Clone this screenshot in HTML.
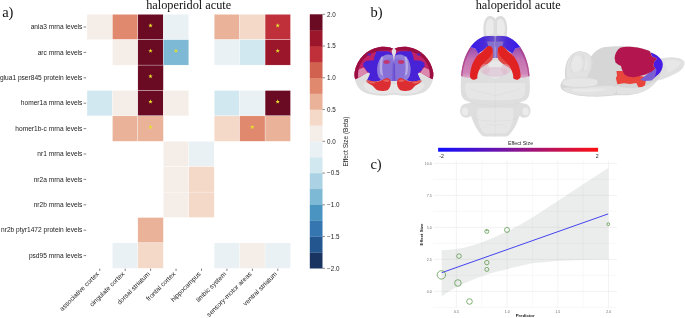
<!DOCTYPE html>
<html>
<head>
<meta charset="utf-8">
<title>haloperidol acute</title>
<style>
html,body{margin:0;padding:0;background:#fff;}
body{width:685px;height:318px;overflow:hidden;font-family:"Liberation Sans",sans-serif;}
svg{display:block;position:absolute;left:0;top:0;will-change:transform;}
</style>
</head>
<body>
<svg width="685" height="318" viewBox="0 0 685 318">
<defs>
  <filter id="b1" x="-20%" y="-20%" width="140%" height="140%"><feGaussianBlur stdDeviation="0.6"/></filter>
  <filter id="b2" x="-20%" y="-20%" width="140%" height="140%"><feGaussianBlur stdDeviation="1.2"/></filter>
  <filter id="b05" x="-20%" y="-20%" width="140%" height="140%"><feGaussianBlur stdDeviation="0.35"/></filter>
  <linearGradient id="es" x1="0" x2="1" y1="0" y2="0">
    <stop offset="0" stop-color="#1010ff"/>
    <stop offset="0.5" stop-color="#8a1490"/>
    <stop offset="1" stop-color="#ff1010"/>
  </linearGradient>
</defs>
<rect width="685" height="318" fill="#fff"/>

<!-- panel titles -->
<g font-family="Liberation Serif, serif" fill="#111">
  <text x="2.2" y="17.1" font-size="14.5">a)</text>
  <text x="188.7" y="8.8" font-size="12.3" text-anchor="middle">haloperidol acute</text>
  <text x="370.4" y="16.6" font-size="14.5">b)</text>
  <text x="518.2" y="8.8" font-size="12.3" text-anchor="middle">haloperidol acute</text>
  <text x="370.4" y="168.9" font-size="14.5">c)</text>
</g>

<g id="heat">
<rect x="87.00" y="14.30" width="25.44" height="25.40" fill="#f5eee8" stroke="#fff" stroke-width="0.3"/>
<rect x="112.44" y="14.30" width="25.44" height="25.40" fill="#e0896e" stroke="#fff" stroke-width="0.3"/>
<rect x="137.88" y="14.30" width="25.44" height="25.40" fill="#6a0a23" stroke="#fff" stroke-width="0.3"/>
<rect x="163.32" y="14.30" width="25.44" height="25.40" fill="#eaf1f5" stroke="#fff" stroke-width="0.3"/>
<rect x="214.20" y="14.30" width="25.44" height="25.40" fill="#e9b299" stroke="#fff" stroke-width="0.3"/>
<rect x="239.64" y="14.30" width="25.44" height="25.40" fill="#f4d9c8" stroke="#fff" stroke-width="0.3"/>
<rect x="265.08" y="14.30" width="25.44" height="25.40" fill="#bf303a" stroke="#fff" stroke-width="0.3"/>
<rect x="112.44" y="39.70" width="25.44" height="25.40" fill="#f5eee8" stroke="#fff" stroke-width="0.3"/>
<rect x="137.88" y="39.70" width="25.44" height="25.40" fill="#6a0a23" stroke="#fff" stroke-width="0.3"/>
<rect x="163.32" y="39.70" width="25.44" height="25.40" fill="#7db8d4" stroke="#fff" stroke-width="0.3"/>
<rect x="214.20" y="39.70" width="25.44" height="25.40" fill="#eaf1f5" stroke="#fff" stroke-width="0.3"/>
<rect x="239.64" y="39.70" width="25.44" height="25.40" fill="#d2e8f0" stroke="#fff" stroke-width="0.3"/>
<rect x="265.08" y="39.70" width="25.44" height="25.40" fill="#9b162a" stroke="#fff" stroke-width="0.3"/>
<rect x="137.88" y="65.10" width="25.44" height="25.40" fill="#6a0a23" stroke="#fff" stroke-width="0.3"/>
<rect x="87.00" y="90.50" width="25.44" height="25.40" fill="#d2e8f0" stroke="#fff" stroke-width="0.3"/>
<rect x="112.44" y="90.50" width="25.44" height="25.40" fill="#f5eee8" stroke="#fff" stroke-width="0.3"/>
<rect x="137.88" y="90.50" width="25.44" height="25.40" fill="#6a0a23" stroke="#fff" stroke-width="0.3"/>
<rect x="163.32" y="90.50" width="25.44" height="25.40" fill="#f5eee8" stroke="#fff" stroke-width="0.3"/>
<rect x="214.20" y="90.50" width="25.44" height="25.40" fill="#d2e8f0" stroke="#fff" stroke-width="0.3"/>
<rect x="239.64" y="90.50" width="25.44" height="25.40" fill="#eaf1f5" stroke="#fff" stroke-width="0.3"/>
<rect x="265.08" y="90.50" width="25.44" height="25.40" fill="#6a0a23" stroke="#fff" stroke-width="0.3"/>
<rect x="112.44" y="115.90" width="25.44" height="25.40" fill="#e9b299" stroke="#fff" stroke-width="0.3"/>
<rect x="137.88" y="115.90" width="25.44" height="25.40" fill="#e9b299" stroke="#fff" stroke-width="0.3"/>
<rect x="214.20" y="115.90" width="25.44" height="25.40" fill="#f4d9c8" stroke="#fff" stroke-width="0.3"/>
<rect x="239.64" y="115.90" width="25.44" height="25.40" fill="#e0896e" stroke="#fff" stroke-width="0.3"/>
<rect x="265.08" y="115.90" width="25.44" height="25.40" fill="#e9b299" stroke="#fff" stroke-width="0.3"/>
<rect x="163.32" y="141.30" width="25.44" height="25.40" fill="#f5eee8" stroke="#fff" stroke-width="0.3"/>
<rect x="188.76" y="141.30" width="25.44" height="25.40" fill="#eaf1f5" stroke="#fff" stroke-width="0.3"/>
<rect x="163.32" y="166.70" width="25.44" height="25.40" fill="#f5eee8" stroke="#fff" stroke-width="0.3"/>
<rect x="188.76" y="166.70" width="25.44" height="25.40" fill="#f4d9c8" stroke="#fff" stroke-width="0.3"/>
<rect x="163.32" y="192.10" width="25.44" height="25.40" fill="#f5eee8" stroke="#fff" stroke-width="0.3"/>
<rect x="188.76" y="192.10" width="25.44" height="25.40" fill="#f4d9c8" stroke="#fff" stroke-width="0.3"/>
<rect x="137.88" y="217.50" width="25.44" height="25.40" fill="#e9b299" stroke="#fff" stroke-width="0.3"/>
<rect x="112.44" y="242.90" width="25.44" height="25.40" fill="#eaf1f5" stroke="#fff" stroke-width="0.3"/>
<rect x="137.88" y="242.90" width="25.44" height="25.40" fill="#f4d9c8" stroke="#fff" stroke-width="0.3"/>
<rect x="214.20" y="242.90" width="25.44" height="25.40" fill="#eaf1f5" stroke="#fff" stroke-width="0.3"/>
<rect x="239.64" y="242.90" width="25.44" height="25.40" fill="#f5eee8" stroke="#fff" stroke-width="0.3"/>
<rect x="265.08" y="242.90" width="25.44" height="25.40" fill="#eaf1f5" stroke="#fff" stroke-width="0.3"/>
<polygon points="150.50,23.15 151.06,24.73 152.73,24.77 151.40,25.79 151.88,27.40 150.50,26.45 149.12,27.40 149.60,25.79 148.27,24.77 149.94,24.73" fill="#e4e02c"/>
<polygon points="277.70,23.15 278.26,24.73 279.93,24.77 278.60,25.79 279.08,27.40 277.70,26.45 276.32,27.40 276.80,25.79 275.47,24.77 277.14,24.73" fill="#e4e02c"/>
<polygon points="150.50,48.55 151.06,50.13 152.73,50.17 151.40,51.19 151.88,52.80 150.50,51.85 149.12,52.80 149.60,51.19 148.27,50.17 149.94,50.13" fill="#e4e02c"/>
<polygon points="175.94,48.55 176.50,50.13 178.17,50.17 176.84,51.19 177.32,52.80 175.94,51.85 174.56,52.80 175.04,51.19 173.71,50.17 175.38,50.13" fill="#e4e02c"/>
<polygon points="277.70,48.55 278.26,50.13 279.93,50.17 278.60,51.19 279.08,52.80 277.70,51.85 276.32,52.80 276.80,51.19 275.47,50.17 277.14,50.13" fill="#e4e02c"/>
<polygon points="150.50,73.95 151.06,75.53 152.73,75.57 151.40,76.59 151.88,78.20 150.50,77.25 149.12,78.20 149.60,76.59 148.27,75.57 149.94,75.53" fill="#e4e02c"/>
<polygon points="150.50,99.35 151.06,100.93 152.73,100.97 151.40,101.99 151.88,103.60 150.50,102.65 149.12,103.60 149.60,101.99 148.27,100.97 149.94,100.93" fill="#e4e02c"/>
<polygon points="277.70,99.35 278.26,100.93 279.93,100.97 278.60,101.99 279.08,103.60 277.70,102.65 276.32,103.60 276.80,101.99 275.47,100.97 277.14,100.93" fill="#e4e02c"/>
<polygon points="150.50,124.75 151.06,126.33 152.73,126.37 151.40,127.39 151.88,129.00 150.50,128.05 149.12,129.00 149.60,127.39 148.27,126.37 149.94,126.33" fill="#e4e02c"/>
<polygon points="252.26,124.75 252.82,126.33 254.49,126.37 253.16,127.39 253.64,129.00 252.26,128.05 250.88,129.00 251.36,127.39 250.03,126.37 251.70,126.33" fill="#e4e02c"/>
</g>
<g font-family="Liberation Sans, sans-serif" font-size="6.6" fill="#222">
<text x="82.4" y="29.10" text-anchor="end">ania3 mrna levels</text>
<line x1="83.6" x2="86.2" y1="27.00" y2="27.00" stroke="#333" stroke-width="0.6"/>
<text x="82.4" y="54.50" text-anchor="end">arc mrna levels</text>
<line x1="83.6" x2="86.2" y1="52.40" y2="52.40" stroke="#333" stroke-width="0.6"/>
<text x="82.4" y="79.90" text-anchor="end">glua1 pser845 protein levels</text>
<line x1="83.6" x2="86.2" y1="77.80" y2="77.80" stroke="#333" stroke-width="0.6"/>
<text x="82.4" y="105.30" text-anchor="end">homer1a mrna levels</text>
<line x1="83.6" x2="86.2" y1="103.20" y2="103.20" stroke="#333" stroke-width="0.6"/>
<text x="82.4" y="130.70" text-anchor="end">homer1b-c mrna levels</text>
<line x1="83.6" x2="86.2" y1="128.60" y2="128.60" stroke="#333" stroke-width="0.6"/>
<text x="82.4" y="156.10" text-anchor="end">nr1 mrna levels</text>
<line x1="83.6" x2="86.2" y1="154.00" y2="154.00" stroke="#333" stroke-width="0.6"/>
<text x="82.4" y="181.50" text-anchor="end">nr2a mrna levels</text>
<line x1="83.6" x2="86.2" y1="179.40" y2="179.40" stroke="#333" stroke-width="0.6"/>
<text x="82.4" y="206.90" text-anchor="end">nr2b mrna levels</text>
<line x1="83.6" x2="86.2" y1="204.80" y2="204.80" stroke="#333" stroke-width="0.6"/>
<text x="82.4" y="232.30" text-anchor="end">nr2b ptyr1472 protein levels</text>
<line x1="83.6" x2="86.2" y1="230.20" y2="230.20" stroke="#333" stroke-width="0.6"/>
<text x="82.4" y="257.70" text-anchor="end">psd95 mrna levels</text>
<line x1="83.6" x2="86.2" y1="255.60" y2="255.60" stroke="#333" stroke-width="0.6"/>
<line x1="99.72" x2="99.72" y1="268.6" y2="271" stroke="#333" stroke-width="0.6"/>
<text transform="translate(99.42,274.40) rotate(-45)" text-anchor="end">associative cortex</text>
<line x1="125.16" x2="125.16" y1="268.6" y2="271" stroke="#333" stroke-width="0.6"/>
<text transform="translate(124.86,274.40) rotate(-45)" text-anchor="end">cingulate cortex</text>
<line x1="150.60" x2="150.60" y1="268.6" y2="271" stroke="#333" stroke-width="0.6"/>
<text transform="translate(150.30,274.40) rotate(-45)" text-anchor="end">dorsal striatum</text>
<line x1="176.04" x2="176.04" y1="268.6" y2="271" stroke="#333" stroke-width="0.6"/>
<text transform="translate(175.74,274.40) rotate(-45)" text-anchor="end">frontal cortex</text>
<line x1="201.48" x2="201.48" y1="268.6" y2="271" stroke="#333" stroke-width="0.6"/>
<text transform="translate(201.18,274.40) rotate(-45)" text-anchor="end">hippocampus</text>
<line x1="226.92" x2="226.92" y1="268.6" y2="271" stroke="#333" stroke-width="0.6"/>
<text transform="translate(226.62,274.40) rotate(-45)" text-anchor="end">limbic system</text>
<line x1="252.36" x2="252.36" y1="268.6" y2="271" stroke="#333" stroke-width="0.6"/>
<text transform="translate(252.06,274.40) rotate(-45)" text-anchor="end">sensory-motor areas</text>
<line x1="277.80" x2="277.80" y1="268.6" y2="271" stroke="#333" stroke-width="0.6"/>
<text transform="translate(277.50,274.40) rotate(-45)" text-anchor="end">ventral striatum</text>
</g>
<g id="cbar">
<rect x="309.80" y="252.43" width="12.70" height="16.07" fill="#1a3462"/>
<rect x="309.80" y="236.55" width="12.70" height="16.07" fill="#23568f"/>
<rect x="309.80" y="220.68" width="12.70" height="16.07" fill="#3576b0"/>
<rect x="309.80" y="204.80" width="12.70" height="16.07" fill="#4a94c2"/>
<rect x="309.80" y="188.93" width="12.70" height="16.07" fill="#7db8d4"/>
<rect x="309.80" y="173.05" width="12.70" height="16.07" fill="#aad2e4"/>
<rect x="309.80" y="157.18" width="12.70" height="16.07" fill="#d2e8f0"/>
<rect x="309.80" y="141.30" width="12.70" height="16.07" fill="#eaf1f5"/>
<rect x="309.80" y="125.42" width="12.70" height="16.07" fill="#f5eee8"/>
<rect x="309.80" y="109.55" width="12.70" height="16.07" fill="#f4d9c8"/>
<rect x="309.80" y="93.67" width="12.70" height="16.07" fill="#e9b299"/>
<rect x="309.80" y="77.80" width="12.70" height="16.07" fill="#e0896e"/>
<rect x="309.80" y="61.92" width="12.70" height="16.07" fill="#d0624f"/>
<rect x="309.80" y="46.05" width="12.70" height="16.07" fill="#bf303a"/>
<rect x="309.80" y="30.18" width="12.70" height="16.07" fill="#9b162a"/>
<rect x="309.80" y="14.30" width="12.70" height="16.07" fill="#6a0a23"/>
<g font-family="Liberation Sans, sans-serif" font-size="6.3" fill="#222">
<line x1="322.50" x2="324.90" y1="14.30" y2="14.30" stroke="#333" stroke-width="0.6"/>
<text x="327" y="16.50">2.0</text>
<line x1="322.50" x2="324.90" y1="46.05" y2="46.05" stroke="#333" stroke-width="0.6"/>
<text x="327" y="48.25">1.5</text>
<line x1="322.50" x2="324.90" y1="77.80" y2="77.80" stroke="#333" stroke-width="0.6"/>
<text x="327" y="80.00">1.0</text>
<line x1="322.50" x2="324.90" y1="109.55" y2="109.55" stroke="#333" stroke-width="0.6"/>
<text x="327" y="111.75">0.5</text>
<line x1="322.50" x2="324.90" y1="141.30" y2="141.30" stroke="#333" stroke-width="0.6"/>
<text x="327" y="143.50">0.0</text>
<line x1="322.50" x2="324.90" y1="173.05" y2="173.05" stroke="#333" stroke-width="0.6"/>
<text x="327" y="175.25">−0.5</text>
<line x1="322.50" x2="324.90" y1="204.80" y2="204.80" stroke="#333" stroke-width="0.6"/>
<text x="327" y="207.00">−1.0</text>
<line x1="322.50" x2="324.90" y1="236.55" y2="236.55" stroke="#333" stroke-width="0.6"/>
<text x="327" y="238.75">−1.5</text>
<line x1="322.50" x2="324.90" y1="268.30" y2="268.30" stroke="#333" stroke-width="0.6"/>
<text x="327" y="270.50">−2.0</text>
<text transform="translate(348,141.5) rotate(-90)" text-anchor="middle" font-size="6.45">Effect Size (Beta)</text>
</g></g>

<g id="brains">
<defs>
  <radialGradient id="gbody" cx="0.5" cy="0.45" r="0.6">
    <stop offset="0" stop-color="#ededed"/>
    <stop offset="0.7" stop-color="#dedede"/>
    <stop offset="1" stop-color="#d2d2d2"/>
  </radialGradient>
  <linearGradient id="crim" x1="0" x2="0" y1="0" y2="1">
    <stop offset="0" stop-color="#b0124a"/>
    <stop offset="0.6" stop-color="#bd1f5c"/>
    <stop offset="0.85" stop-color="#cc5c86"/>
    <stop offset="1" stop-color="#d8a0b8"/>
  </linearGradient>
  <!-- left half of coronal brain; mirrored with use -->
  <g id="corhalf">
    <!-- grey base -->
    <path d="M394.5,49.8 C392,47.2 385,46.2 379,47.2 C367.5,49 357,58.5 354.6,72 C353.8,80.5 357,88.5 364,92.3 C372,96.2 386,96.6 394.5,94.2 Z" fill="#dedede"/>
    <path d="M394.5,84 C386,84 372,85 364,83 C362,88 368,92.5 376,93.5 C384,94.3 390,93.6 394.5,92.5 Z" fill="#e8e8e8" opacity="0.8"/>
    <!-- crimson cortex -->
    <path d="M394.5,49.8 C392,47.2 385,46.2 379,47.2 C367.5,49 357,58.5 354.6,72 C354.2,75 354.5,77.5 355.3,79.3 L360,77 L364,74.5 L367,72.7 L375,72 L394.5,72 Z" fill="#c0246a"/>
    <!-- darker crimson outer rim -->
    <path d="M379,47.2 C367.5,49 357,58.5 354.6,72 C354.2,75 354.5,77.5 355.3,79.3 L358.3,77.8 C357.8,75 358,71.5 358.8,68.5 C361,60 368.5,53 379,51 C384,50.2 390,50.4 394.5,51.6 L394.5,49.8 C392,47.2 385,46.2 379,47.2 Z" fill="#9c0f42"/>
    <!-- pink translucent lower-left -->
    <path d="M358.8,69.5 L363.4,67.5 L366,70 L367.2,72.7 L364,74.6 L360,77 L358.3,77.8 C357.8,75 358,72.5 358.8,69.5 Z" fill="#dc88ae"/>
    <!-- blue-violet region -->
    <path d="M394.5,57 L392.4,54 L390,52 L387,51.2 L376.5,51.2 L375.2,54.5 L374.2,57.5 L374,60.2 L366.6,60.8 L363.4,63 L363.2,66.6 L365.2,67.8 L365.8,70 L367.6,71.5 L370,73.7 L368.6,77 L367,80.3 L375.6,81.7 L381.2,80.3 L394.5,81 Z" fill="#4720d6"/>
    <path d="M367.2,53.6 L370.8,53.2 L371,55.2 L367.6,55.8 Z" fill="#5a22b8"/>
    <!-- lavender striatum see-through -->
    <path d="M394.5,58 L392,55 C388,53.4 381.5,55 379.3,60 C376.5,66 376.6,72 378.5,77 L381.2,80.3 L386,80.5 L394.5,81 Z" fill="#917edb"/>
    <path d="M394.5,59 C389.5,57 384.5,59 383,64.5 C381.8,70 382.8,76 385,80.4 L394.5,81 Z" fill="#8670d8" opacity="0.9"/>
    <path d="M381.4,56.4 C379.6,61 379.2,68 380.6,74 L383,76 C381.6,69 381.8,62 383.4,57 Z" fill="#bdb4e6" opacity="0.85"/>
    <!-- midline darker -->
    <path d="M394.5,62 L392.8,64 L392.4,80.8 L394.5,81 Z" fill="#5a38cc" opacity="0.6"/>
    <!-- small pink blob -->
    <ellipse cx="386.6" cy="62" rx="3.2" ry="1.9" fill="#c2346e" opacity="0.95"/>
    <!-- red ventral blob -->
    <path d="M366,80.7 C368,80.2 372,81.2 375.6,81.6 C378.5,81.6 381.5,80.6 383,79.8 C384.6,78.6 386.5,77.8 387.8,78 C389.8,78.6 390.8,80.4 390.8,82.5 C390.9,85.5 389.8,88.5 387.8,89.9 C385,91.2 381,91.2 378.4,90.6 C375.6,89.6 374.4,87.6 372.6,85.8 C370.6,84.4 367.6,83.2 366,80.7 Z" fill="#dc2f33"/>
    <path d="M366.4,81 C369,81 373,82 376,82.4 C374,84.2 369,83.6 366.4,81 Z" fill="#e86e66" opacity="0.9"/>
    <path d="M383,80.6 C385,79.2 388,79 389.6,80.8 C388,82.6 385,82.4 383,80.6 Z" fill="#e86a68" opacity="0.8"/>
  </g>
</defs>

<!-- CORONAL -->
<g filter="url(#b05)">
  <use href="#corhalf"/>
  <use href="#corhalf" transform="translate(787.8,0) scale(-1,1)"/>
  <!-- midline highlight -->
  <path d="M393.9,48.4 L391.6,50 L392,53.4 L393.2,56.6 L393.9,62 L394.6,56.6 L395.8,53.4 L396.2,50 Z" fill="#e2e0e4"/>
</g>


<!-- DORSAL -->
<defs>
  <linearGradient id="dblue" x1="0" x2="1" y1="0" y2="0">
    <stop offset="0" stop-color="#3418ee"/>
    <stop offset="0.55" stop-color="#4a2ad8"/>
    <stop offset="1" stop-color="#6a50c8"/>
  </linearGradient>
  <linearGradient id="dpink" x1="0" x2="0" y1="0" y2="1">
    <stop offset="0" stop-color="#9a4eb0"/>
    <stop offset="0.4" stop-color="#c472b2"/>
    <stop offset="0.85" stop-color="#d084b8"/>
    <stop offset="1" stop-color="#dcaccb"/>
  </linearGradient>
  <g id="dorhalf">
    <!-- olfactory bulb -->
    <path d="M495.5,39 L495.5,19.5 C494.6,17 491.2,15.6 488.6,16.3 C485.4,17.3 483.6,22 483.4,28 C483.3,32.5 483.8,36.5 484.8,39.5 Z" fill="#dcdcdc"/>
    <path d="M493.6,34 L493.6,21.5 C492.6,19 490.4,18.4 488.8,19.2 C486.6,20.6 485.6,25 485.7,29 C485.8,32 486.4,34.5 487.2,36 Z" fill="#ebebeb"/>
    <!-- grey body half -->
    <path d="M495.8,36.2 C490,35.6 484,36.2 482.5,36.9 C479,38.4 476.5,40.4 474.3,42.6 C471.5,45.6 469.5,48.6 467.8,51.6 C466,55 464.7,58.2 463.7,61.4 C462.6,64.8 462,68 461.6,71.2 C461.2,74.5 461,77 461,80 C460.5,85 460.5,90 461.3,94.5 C462,97.5 463.5,99.5 466,100.8 C468,101.6 470,102 471.4,102.6 C468.5,103.2 464.5,103.6 462.3,105.2 C460.3,107 459.8,110 460.3,112.8 C460.9,115.4 462.6,117 465,117.6 C467.4,118 469.6,117.2 471,115.8 C471.8,118 472.8,121 474.5,124.5 C476,127.8 478,131 480.6,134 C481.8,135.5 483,136.2 484.4,136.4 L495.8,136.4 Z" fill="#dedede"/>
    <!-- pink translucent side -->
    <path d="M470.2,47.3 C468.8,49.6 467.8,51.6 467.8,51.6 C466,55 464.7,58.2 463.7,61.4 C462.6,64.8 462,68 461.6,71.2 C461.4,73 461.2,74.6 461.1,76 C464,77.4 468,78 471,77.8 L472,70 L475,60 L479.5,53.5 L475,48.3 Z" fill="url(#dpink)"/>
    <path d="M470.2,47.3 C468.8,49.6 467.8,51.6 467.8,51.6 C466,55 464.7,58.2 463.7,61.4 C462.6,64.8 462,68 461.6,71.2 C461.4,73 461.2,74.6 461.1,76 L462.4,76.4 C462.6,72 463.6,66.5 465.2,61.6 C466.8,57 468.8,52.5 471.6,48.4 Z" fill="#a83a86" opacity="0.75"/>
    <!-- blue band -->
    <path d="M495.3,36.2 C490,35.6 484,36.2 482.5,36.9 C479,38.4 476.5,40.4 474.3,42.6 C472.6,44.3 471.3,45.8 470.2,47.3 L475.1,48.3 L478.4,53.4 L482.5,50.8 L486.6,47.5 L490.7,46.7 L495.3,46.7 Z" fill="url(#dblue)"/>
    <!-- lavender centre top -->
    <path d="M487,41.5 L495.3,41.5 L495.3,58 L491.5,58 L492.6,50 L488.5,46.5 Z" fill="#8670cc"/>
    <!-- translucent red inner -->
    <path d="M482,57 L491.5,48 C493.4,50.2 493.8,54.5 492.4,59.2 C490.4,62.4 486.6,64.8 482.6,67 C480.2,68.4 477.8,70.6 476.6,73.4 L474,70 Z" fill="#e14a48"/>
    <!-- solid red horn -->
    <path d="M488.2,46.3 C490.6,45.6 492.4,46.8 492.7,49.5 C492.9,52.8 491,56 488.4,58.4 C485.4,61 482.6,63.6 480.6,67 C479,70 477.6,73.5 477.2,76.9 L477.6,77.8 C477,79.4 474,80 472.5,79.4 C470.4,78.6 469.8,77.2 470,75 C470.2,71.5 471.1,67.2 472.5,63.8 C473.6,61 475,58.6 476.6,56.5 C478.4,54.4 480.3,52.9 482.3,51.4 C484.3,49.8 486.4,47.4 488.2,46.3 Z" fill="#e02222"/>
  </g>
</defs>
<g filter="url(#b05)">
  <use href="#dorhalf"/>
  <use href="#dorhalf" transform="translate(990.6,0) scale(-1,1)"/>
  <path d="M466,83 L524.6,83 C526,88 525.6,94 522,98 C514,101 476.6,101 468.6,98 C465,94 464.6,88 466,83 Z" fill="#e8e8e8" opacity="0.85"/>
  <ellipse cx="495.3" cy="69.5" rx="8.5" ry="9" fill="#e9e9e9" opacity="0.9"/>
  <ellipse cx="495.3" cy="72" rx="12" ry="5" fill="#dcb6cf" opacity="0.5"/>
  <ellipse cx="485" cy="69" rx="5" ry="5" fill="#e0b4c8" opacity="0.45"/>
  <ellipse cx="505.6" cy="69" rx="5" ry="5" fill="#e0b4c8" opacity="0.45"/>
  <path d="M478,108 L512.6,108 C515,116 512,128 506,133.5 L484.6,133.5 C478.6,128 475.6,116 478,108 Z" fill="#e7e7e7" opacity="0.85"/>
  <ellipse cx="465" cy="111.4" rx="3.2" ry="4" fill="#ececec" opacity="0.9"/>
  <ellipse cx="525.6" cy="111.4" rx="3.2" ry="4" fill="#ececec" opacity="0.9"/>
  <g fill="none" stroke="#cfcfcf" stroke-width="0.45" opacity="0.6">
    <path d="M495.3,82 L495.3,135"/>
    <path d="M471.5,103 C480,106.5 510.6,106.5 519.1,103"/>
    <path d="M474,118.5 C482,122 508.6,122 516.6,118.5"/>
    <path d="M484,128 C488,124 492,123 495.3,126 C498.6,123 502.6,124 506.6,128"/>
    <path d="M470,88 C478,93 486,92 495.3,96 C504.6,92 512.6,93 520.6,88"/>
  </g>
</g>
<!-- SAGITTAL -->
<g filter="url(#b05)">
  <!-- olfactory bulb -->
  <path d="M655,60 C660,58.6 667,57.2 672,57.3 C678,57.5 683.5,59 684.4,62 C685,66 682,70 678,72.2 C673,75 667,77.5 662,79.5 L655,81 Z" fill="#e0e0e0"/>
  <path d="M664,61 C669,59.6 676,59.6 681,62 C680,66 675,70 668,72.6 Z" fill="#e9e9e9" opacity="0.8"/>
  <!-- main body -->
  <path d="M591,56.4 C593.5,52.6 596.5,50.2 600,48.4 C603.5,47 607,46.6 610.8,46.5 C618,46 626,46 632,46.6 C640,47.2 648,49.8 654,53.4 C659,56.5 662,60 662.5,64 C663,70 660,77 656,82 C652,87 646,91 638,93.6 C630,95.6 622,95.4 616,95.2 C608,96.2 600,96.8 593,96.6 C586,96.4 580,96 575.6,95 C570,93.8 566,92.4 563.3,90.6 C560.8,88.6 560,86.2 560.6,84.4 C561.4,81.4 563.4,79 565.4,78.2 C564.6,74 564.8,68.4 566,64.6 C567.6,58 572.6,52.2 579,51.3 C584,50.8 588.6,53 591,56.4 Z" fill="#d6d6d6"/>
  <!-- cerebellum lighter lobes -->
  <path d="M591,57 C588.6,53.6 584,51.6 579,52 C573,52.8 568.4,58 567,64.6 C566,69 566,74 567,78 C572,80.4 580,79.6 586,77.6 C590,74 592.6,68 592.6,63 C592.6,60.6 592,58.6 591,57 Z" fill="#e2e2e2"/>
  <path d="M576,55.6 C572,58.6 570.2,64 571,69 C572.6,72.4 577,72.8 580,70 C583,66 583,60 580,56.2 Z" fill="#e9e9e9" opacity="0.9"/>
  <path d="M585,58 C588,60 589,65 587.4,69 C585,72 582.6,70 583.4,66 C584,63 584,60 585,58 Z" fill="#e8e8e8" opacity="0.9"/>
  <!-- paraflocculus / lower lobe -->
  <path d="M562,82 C563,78.6 568,77 576,77 C584,76.8 592,77.4 596.6,79.6 C598.4,81.6 597.6,84.6 595,86 C588,87.6 576,87.4 568,86.4 C564,85.8 562,84.4 562,82 Z" fill="#e6e6e6"/>
  <!-- brainstem lighter -->
  <path d="M563,88 C570,86.4 590,87 604,86 C612,85 616,86 617,89 C616.6,92 615,94 612,94.8 C602,96 588,96.2 578,94.8 C570,93.8 565,91.8 563,88 Z" fill="#e2e2e2"/>
  <path d="M572,89.4 C582,88.4 598,88.4 608,88.8 C602,92 584,93 572,91 Z" fill="#eaeaea" opacity="0.85"/>
  <!-- ventral forebrain lighter -->
  <path d="M616,86 C624,88 634,89 644,86.4 C650,84.6 654,82 656,80 C654,86 648,90.6 638,93 C630,94.8 622,94.6 617,94 Z" fill="#e2e2e2"/>
  <g fill="none" stroke="#c8c8c8" stroke-width="0.5" opacity="0.7">
    <path d="M563,80.4 C568,77.4 584,76.6 596.6,79.4"/>
    <path d="M563.6,86 C572,87.8 588,87.8 596,85.8"/>
    <path d="M574,54.6 C570,60 569.6,68 572.6,73"/>
    <path d="M582,53.6 C585,58 585.4,66 582,71.6"/>
    <path d="M590.6,57 C593,62 592,70 588,75.6"/>
  </g>
  <!-- red ventral -->
  <path d="M616.5,71 L617,76 L615.8,78 L617.4,84.3 L624,83.2 L630,84 L636.3,83 L638.4,87.2 L642,87 L645,85.2 L646,80 L643.8,76.4 L630,75 L622,71 Z" fill="#e8443c"/>
  <!-- lavender-blue -->
  <path d="M640,80 L645,76 L651.4,71 L657,68 L658.2,73 L655,77.5 L651.5,80.4 L645,81 Z" fill="#7a5ed2"/>
  <!-- blue -->
  <path d="M650.5,52.6 C653,53.2 656.5,55 659,57.2 C661.5,59.5 662.8,62 662.8,64.5 C662.8,68 661,72 658.2,74.6 L655,77 L656.5,70 L653.5,66 L654.2,61.7 L657,58.5 L652,56.5 Z" fill="#4a1ee6"/>
  <!-- crimson -->
  <path d="M614.6,58 C615,53.4 617,49.8 620.3,47.8 C624,46.6 628,46.5 632.5,46.9 C639,47.4 645,49 649.6,51 L652,56.5 L657,58.5 L654.2,61.7 L653.5,66 L655.4,68.5 L652,71.5 L645.7,74.4 L640,76 L634,77.2 L628.8,76.8 L625,75 L623,72 L621.6,68.5 L621,66 L618,64.6 L615.5,62.5 Z" fill="#b3174f"/>
</g>

</g>


<!-- effect size colour bar -->
<g id="escale" font-family="Liberation Sans, sans-serif" fill="#222">
  <rect x="438.1" y="147.8" width="160" height="3.9" fill="url(#es)"/>
  <text x="520.5" y="145.1" font-size="5.3" text-anchor="middle">Effect Size</text>
  <text x="439.3" y="157.5" font-size="5.2">-2</text>
  <text x="598.6" y="157.5" font-size="5.2" text-anchor="end">2</text>
</g>

<g id="scatter">
<line x1="456.4" x2="456.4" y1="161.0" y2="307.8" stroke="#e9e9e9" stroke-width="0.55"/>
<line x1="507.1" x2="507.1" y1="161.0" y2="307.8" stroke="#e9e9e9" stroke-width="0.55"/>
<line x1="557.8" x2="557.8" y1="161.0" y2="307.8" stroke="#e9e9e9" stroke-width="0.55"/>
<line x1="608.5" x2="608.5" y1="161.0" y2="307.8" stroke="#e9e9e9" stroke-width="0.55"/>
<line x1="481.8" x2="481.8" y1="161.0" y2="307.8" stroke="#f0f0f0" stroke-width="0.4"/>
<line x1="532.5" x2="532.5" y1="161.0" y2="307.8" stroke="#f0f0f0" stroke-width="0.4"/>
<line x1="583.1" x2="583.1" y1="161.0" y2="307.8" stroke="#f0f0f0" stroke-width="0.4"/>
<line x1="433.3" x2="617.0" y1="163.4" y2="163.4" stroke="#e9e9e9" stroke-width="0.55"/>
<line x1="433.3" x2="617.0" y1="195.4" y2="195.4" stroke="#e9e9e9" stroke-width="0.55"/>
<line x1="433.3" x2="617.0" y1="227.4" y2="227.4" stroke="#e9e9e9" stroke-width="0.55"/>
<line x1="433.3" x2="617.0" y1="259.4" y2="259.4" stroke="#e9e9e9" stroke-width="0.55"/>
<line x1="433.3" x2="617.0" y1="291.4" y2="291.4" stroke="#e9e9e9" stroke-width="0.55"/>
<line x1="433.3" x2="617.0" y1="179.4" y2="179.4" stroke="#f0f0f0" stroke-width="0.4"/>
<line x1="433.3" x2="617.0" y1="211.4" y2="211.4" stroke="#f0f0f0" stroke-width="0.4"/>
<line x1="433.3" x2="617.0" y1="243.4" y2="243.4" stroke="#f0f0f0" stroke-width="0.4"/>
<line x1="433.3" x2="617.0" y1="275.4" y2="275.4" stroke="#f0f0f0" stroke-width="0.4"/>
<line x1="433.3" x2="617.0" y1="307.4" y2="307.4" stroke="#f0f0f0" stroke-width="0.4"/>
<polygon points="441.7,250.2 452.0,249.6 463.3,248.0 477.5,244.0 491.7,238.4 505.8,232.0 520.0,224.8 534.0,216.4 560.0,199.4 585.0,183.1 608.2,168.0 608.2,259.4 582.0,260.0 557.0,261.0 532.4,263.2 520.0,266.0 505.8,269.4 491.7,273.0 477.5,277.8 463.3,283.8 452.0,289.6 447.0,292.8 441.7,296.6" fill="#999e9e" fill-opacity="0.2"/>
<line x1="441.7" y1="272.7" x2="608.2" y2="213.9" stroke="#3030f0" stroke-width="0.9"/>
<circle cx="441.4" cy="274.9" r="4.2" fill="none" stroke="#3f8a2f" stroke-width="0.65"/>
<circle cx="459.0" cy="256.1" r="2.3" fill="none" stroke="#3f8a2f" stroke-width="0.65"/>
<circle cx="457.9" cy="283.0" r="3.3" fill="none" stroke="#3f8a2f" stroke-width="0.65"/>
<circle cx="469.5" cy="301.5" r="2.8" fill="none" stroke="#3f8a2f" stroke-width="0.65"/>
<circle cx="486.8" cy="262.6" r="2.2" fill="none" stroke="#3f8a2f" stroke-width="0.65"/>
<circle cx="486.8" cy="269.4" r="2.0" fill="none" stroke="#3f8a2f" stroke-width="0.65"/>
<circle cx="486.8" cy="231.4" r="2.0" fill="none" stroke="#3f8a2f" stroke-width="0.65"/>
<circle cx="507.0" cy="229.9" r="2.5" fill="none" stroke="#3f8a2f" stroke-width="0.65"/>
<circle cx="608.3" cy="224.2" r="1.4" fill="none" stroke="#3f8a2f" stroke-width="0.65"/>
<circle cx="486.8" cy="230.6" r="0.7" fill="#3f8a2f"/>
<g font-family="Liberation Sans, sans-serif" font-size="3.5" fill="#6a6a6a">
<text x="431.6" y="164.6" text-anchor="end">10.0</text>
<text x="431.6" y="196.6" text-anchor="end">7.5</text>
<text x="431.6" y="228.6" text-anchor="end">5.0</text>
<text x="431.6" y="260.6" text-anchor="end">2.5</text>
<text x="431.6" y="292.6" text-anchor="end">0.0</text>
<text x="456.5" y="312.7" text-anchor="middle">0.5</text>
<text x="507.2" y="312.7" text-anchor="middle">1.0</text>
<text x="557.9" y="312.7" text-anchor="middle">1.5</text>
<text x="608.7" y="312.7" text-anchor="middle">2.0</text>
</g>
<g font-family="Liberation Sans, sans-serif" font-size="4.3" font-weight="bold" fill="#222">
<text x="525.2" y="317" text-anchor="middle">Predictor</text>
<text transform="translate(423,234.6) rotate(-90)" text-anchor="middle">Effect Size</text>
</g>
</g>
</svg>
</body>
</html>
